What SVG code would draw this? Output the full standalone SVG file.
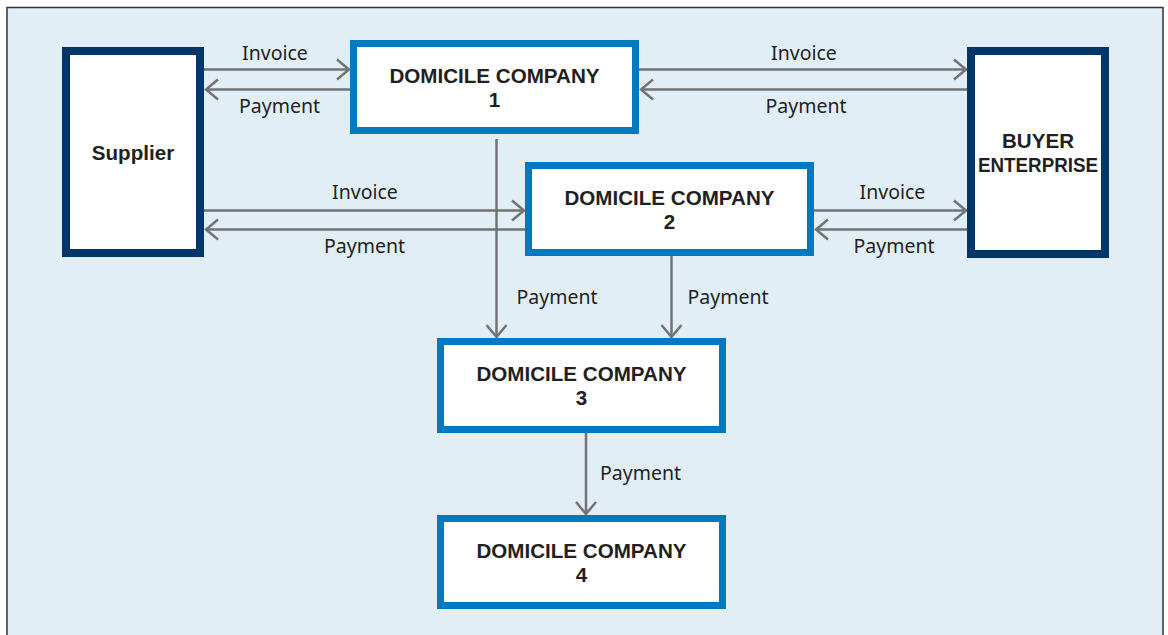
<svg xmlns="http://www.w3.org/2000/svg" width="1168" height="635" viewBox="0 0 1168 635">
  <style>
    .panel { fill: #e1eef5; stroke: #333333; stroke-width: 1.5; }
    .party { fill: #ffffff; stroke: #003769; stroke-width: 8; }
    .dom { fill: #ffffff; stroke: #0079c1; stroke-width: 7; }
    .title { font-family: "Liberation Sans", Arial, sans-serif; font-weight: bold; font-size: 20.6px; fill: #231f20; text-anchor: middle; }
    .lbl { font-family: "Noto Sans", "Liberation Sans", sans-serif; font-size: 19.5px; fill: #231f20; }
    .mid { text-anchor: middle; }
    .conn line { stroke: #737373; stroke-width: 2.5; fill: none; marker-end: url(#arr); }
  </style>
  <defs>
    <marker id="arr" markerUnits="userSpaceOnUse" markerWidth="16" markerHeight="24" refX="12" refY="10" orient="auto" overflow="visible">
      <path d="M0,0 L12,10 L0,20" fill="none" stroke="#737373" stroke-width="2.5"/>
    </marker>
  </defs>

  <rect width="1168" height="635" fill="#ffffff"/>
  <rect class="panel" x="7" y="7.5" width="1156" height="640"/>

  <g id="connectors" class="conn">
    <line x1="204" y1="69.5" x2="349" y2="69.5"/>
    <line x1="350" y1="89.5" x2="206" y2="89.5"/>
    <line x1="639" y1="69.5" x2="966" y2="69.5"/>
    <line x1="967" y1="89.5" x2="641" y2="89.5"/>
    <line x1="204" y1="210.5" x2="524" y2="210.5"/>
    <line x1="525" y1="229.5" x2="206" y2="229.5"/>
    <line x1="814" y1="210.5" x2="966" y2="210.5"/>
    <line x1="967" y1="229.5" x2="816" y2="229.5"/>
    <line x1="496.5" y1="139" x2="496.5" y2="337"/>
    <line x1="671.5" y1="256" x2="671.5" y2="337"/>
    <line x1="586" y1="433" x2="586" y2="514"/>
  </g>

  <g id="labels">
    <text class="lbl mid" x="275" y="60">Invoice</text>
    <text class="lbl mid" x="279.5" y="113">Payment</text>
    <text class="lbl mid" x="804" y="60">Invoice</text>
    <text class="lbl mid" x="806" y="113">Payment</text>
    <text class="lbl mid" x="365" y="199">Invoice</text>
    <text class="lbl mid" x="364.5" y="253">Payment</text>
    <text class="lbl mid" x="892.5" y="199">Invoice</text>
    <text class="lbl mid" x="894" y="253">Payment</text>
    <text class="lbl" x="516.5" y="304">Payment</text>
    <text class="lbl" x="687.5" y="304">Payment</text>
    <text class="lbl" x="600" y="480">Payment</text>
  </g>

  <g id="supplier">
    <rect class="party" x="66" y="51" width="134" height="202"/>
    <text class="title" x="133" y="160">Supplier</text>
  </g>

  <g id="buyer">
    <rect class="party" x="971" y="51" width="134" height="203"/>
    <text class="title" x="1038" y="148">BUYER</text>
    <text class="title" x="1038" y="172" textLength="120" lengthAdjust="spacingAndGlyphs">ENTERPRISE</text>
  </g>

  <g id="domicile1">
    <rect class="dom" x="353.5" y="43.5" width="282" height="87"/>
    <text class="title" x="494.5" y="83">DOMICILE COMPANY</text>
    <text class="title" x="494.5" y="107">1</text>
  </g>

  <g id="domicile2">
    <rect class="dom" x="528.5" y="165.5" width="282" height="87"/>
    <text class="title" x="669.5" y="205">DOMICILE COMPANY</text>
    <text class="title" x="669.5" y="229">2</text>
  </g>

  <g id="domicile3">
    <rect class="dom" x="440.5" y="341.5" width="282" height="88"/>
    <text class="title" x="581.5" y="381">DOMICILE COMPANY</text>
    <text class="title" x="581.5" y="405">3</text>
  </g>

  <g id="domicile4">
    <rect class="dom" x="440.5" y="518.5" width="282" height="87"/>
    <text class="title" x="581.5" y="558">DOMICILE COMPANY</text>
    <text class="title" x="581.5" y="582">4</text>
  </g>
</svg>
